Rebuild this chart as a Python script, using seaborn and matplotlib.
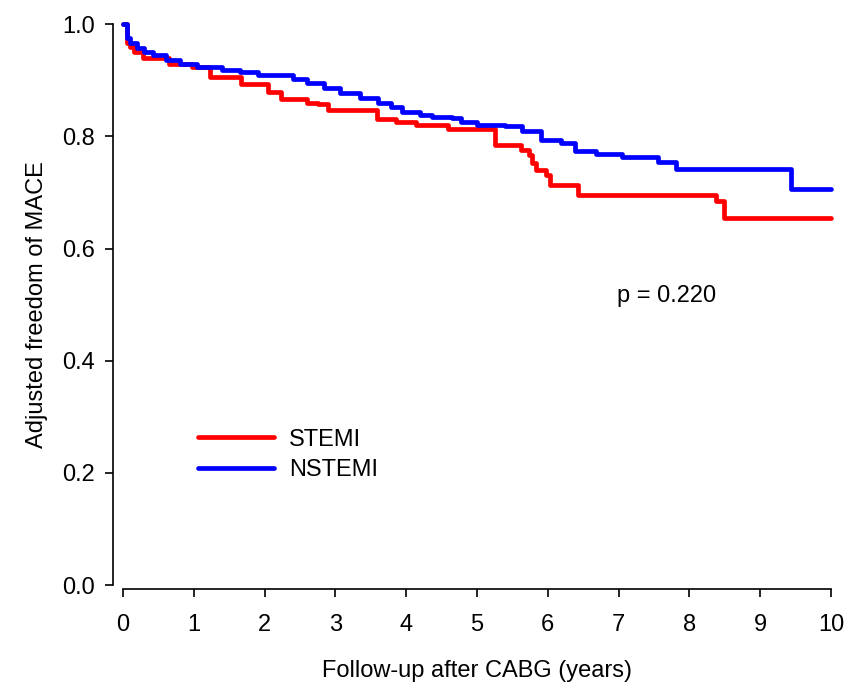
import numpy as np
import pandas as pd
import matplotlib
matplotlib.use('Agg')
import matplotlib.pyplot as plt
import seaborn as sns

# Adjusted survival estimates (time in years)
stemi_t = [0, 0.05, 0.1, 0.15, 0.28, 0.65, 0.97, 1.23, 1.66, 2.05, 2.23, 2.6, 2.75, 2.9,
           3.59, 3.85, 4.14, 4.59, 5.26, 5.62, 5.73, 5.78, 5.83, 5.97, 6.03, 6.42, 8.37, 8.49, 10]
stemi_s = [1.0, 0.966, 0.960, 0.951, 0.940, 0.930, 0.923, 0.906, 0.893, 0.880, 0.866, 0.860, 0.857, 0.848,
           0.831, 0.825, 0.821, 0.813, 0.785, 0.776, 0.766, 0.753, 0.741, 0.731, 0.714, 0.696, 0.684, 0.655, 0.655]

nstemi_t = [0, 0.05, 0.1, 0.2, 0.3, 0.43, 0.6, 0.8, 1.05, 1.4, 1.65, 1.9, 2.4, 2.6, 2.84, 3.07,
            3.35, 3.6, 3.78, 3.94, 4.2, 4.36, 4.65, 4.77, 5.0, 5.4, 5.64, 5.9, 6.18, 6.39, 6.68,
            7.05, 7.55, 7.81, 9.43, 10]
nstemi_s = [1.0, 0.975, 0.966, 0.957, 0.951, 0.945, 0.936, 0.930, 0.924, 0.918, 0.915, 0.909, 0.903, 0.895, 0.886, 0.877,
            0.869, 0.860, 0.853, 0.844, 0.838, 0.834, 0.833, 0.826, 0.821, 0.818, 0.809, 0.794, 0.789, 0.774, 0.769,
            0.763, 0.755, 0.742, 0.706, 0.706]

groups = ['STEMI', 'NSTEMI']
colors = ['#ff0000', '#0000ff']
x_ticks = list(range(0, 11))
y_ticks = [0.0, 0.2, 0.4, 0.6, 0.8, 1.0]
p_text = 'p = 0.220'

df = pd.concat([
    pd.DataFrame({'t': stemi_t, 's': stemi_s, 'group': 'STEMI'}),
    pd.DataFrame({'t': nstemi_t, 's': nstemi_s, 'group': 'NSTEMI'}),
])

sns.set_style('ticks')
plt.rcParams['font.family'] = ['Liberation Sans', 'DejaVu Sans']
plt.rcParams.update({'text.color': 'black', 'axes.labelcolor': 'black',
                     'xtick.color': 'black', 'ytick.color': 'black'})

fs = 17
fig = plt.figure(figsize=(8.45, 6.84), dpi=100)
ax = fig.add_axes([0.1456, 0.1447, 0.8378, 0.8198])

sns.lineplot(data=df, x='t', y='s', hue='group', hue_order=groups,
             palette=dict(zip(groups, colors)), drawstyle='steps-post',
             estimator=None, sort=False, linewidth=3.4, ax=ax)
for line in ax.get_lines():
    line.set_clip_on(False)

ax.set_xlim(0, 10)
ax.set_ylim(0, 1)
ax.set_xticks(x_ticks)
ax.set_yticks(y_ticks)
ax.set_yticklabels([f'{v:.1f}' for v in y_ticks])
ax.tick_params(labelsize=fs, length=6, width=1.2, pad=7)
ax.tick_params(axis='x', pad=12)

sns.despine(ax=ax)
ax.spines['left'].set_position(('outward', 7))
ax.spines['bottom'].set_position(('outward', 3))
for s in ['left', 'bottom']:
    ax.spines[s].set_linewidth(1.2)
    ax.spines[s].set_color('black')

ax.set_xlabel('Follow-up after CABG (years)', fontsize=fs, labelpad=17)
ax.set_ylabel('Adjusted freedom of MACE', fontsize=fs, labelpad=10)

ax.text(6.98, 0.515, p_text, fontsize=fs, va='center', ha='left')

ax.legend(frameon=False, loc='upper left', bbox_to_anchor=(0.076, 0.317),
          fontsize=fs, handlelength=3.2, handletextpad=0.64, labelspacing=0.35)

plt.savefig('out.png', dpi=100)
